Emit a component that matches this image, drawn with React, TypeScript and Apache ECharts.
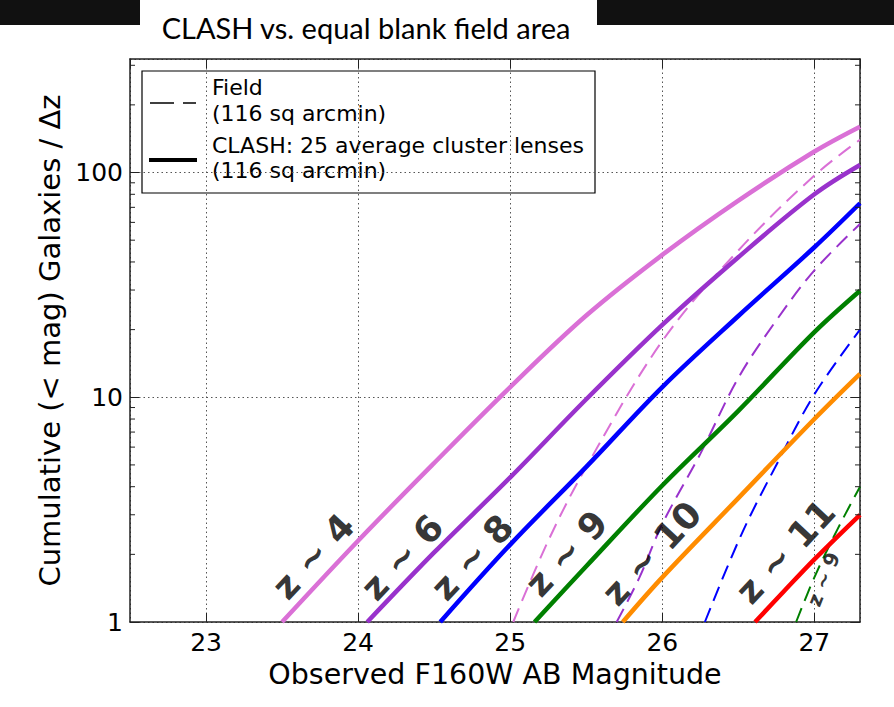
import React, { useEffect, useRef } from "react";
import * as echarts from "echarts";

// Axis ranges
const X_MIN = 22.5;
const X_MAX = 27.3;
const Y_MIN = 1;
const Y_MAX = 320;

// CLASH lensed cumulative counts (solid lines): magnitude / galaxies per unit z
const Z4_MAG = [23.5, 24.0, 24.5, 25.0, 25.5, 26.0, 26.5, 27.0, 27.3];
const Z4_CLASH = [1, 2.3, 5.1, 11.1, 23.1, 43, 75, 124, 160];
const Z6_MAG = [24.06, 24.5, 25.0, 25.5, 26.0, 26.5, 27.0, 27.3];
const Z6_CLASH = [1, 2.04, 4.4, 9.8, 21, 42, 80, 108];
const Z8_MAG = [24.54, 25.0, 25.5, 26.0, 26.5, 27.0, 27.3];
const Z8_CLASH = [1, 2.21, 4.9, 11.1, 23, 46.5, 73];
const Z9_MAG = [25.16, 25.5, 26.0, 26.5, 27.0, 27.3];
const Z9_CLASH = [1, 1.77, 4.05, 8.7, 19.5, 29.8];
const Z10_MAG = [25.74, 26.0, 26.5, 27.0, 27.3];
const Z10_CLASH = [1, 1.58, 3.56, 8.0, 12.7];
const Z11_MAG = [26.61, 26.8, 27.0, 27.3];
const Z11_CLASH = [1, 1.37, 1.9, 3.0];

// Blank field cumulative counts (dashed lines)
const Z4_FIELD_MAG = [25.02, 25.25, 25.5, 26.0, 26.5, 27.0, 27.3];
const Z4_FIELD = [1, 2.3, 4.9, 17.8, 45, 97, 140];
const Z6_FIELD_MAG = [25.7, 25.85, 26.0, 26.25, 26.5, 26.75, 27.0, 27.3];
const Z6_FIELD = [1, 1.58, 2.73, 5.6, 12.2, 22, 36.7, 59];
const Z8_FIELD_MAG = [26.28, 26.52, 26.75, 27.0, 27.3];
const Z8_FIELD = [1, 2.45, 5.0, 10.3, 20];
const Z9_FIELD_MAG = [26.88, 27.0, 27.15, 27.3];
const Z9_FIELD = [1, 1.58, 2.57, 4.0];

// Redshift annotations placed in data space
const LABEL_TEXT = ["z ~ 4", "z ~ 6", "z ~ 8", "z ~ 9", "z ~ 10", "z ~ 11"];
const LABEL_MAG = [23.705, 24.29, 24.75, 25.37, 25.93, 26.81];
const LABEL_N = [1.96, 1.94, 1.94, 2.02, 2.02, 2.06];
const FIELD_LABEL_TEXT = "z ~ 9";
const FIELD_LABEL_MAG = 27.06;
const FIELD_LABEL_N = 1.55;

// Log minor ticks
const MINOR_Y = [2, 3, 4, 5, 6, 7, 8, 9, 20, 30, 40, 50, 60, 70, 80, 90, 200, 300];

const FONT = "DejaVu Sans";
const FRAME = "#222";

const pairs = (xs: number[], ys: number[]) => xs.map((x, i) => [x, ys[i]]);

const solid = (name: string, color: string, xs: number[], ys: number[]) => ({
  name,
  type: "line",
  data: pairs(xs, ys),
  smooth: 0.35,
  symbol: "none",
  showSymbol: false,
  silent: true,
  z: 4,
  lineStyle: { color, width: 4.5, cap: "butt" },
});

const dashed = (name: string, color: string, xs: number[], ys: number[]) => ({
  name,
  type: "line",
  data: pairs(xs, ys),
  smooth: 0.35,
  symbol: "none",
  showSymbol: false,
  silent: true,
  z: 3,
  lineStyle: { color, width: 2, type: [15, 8], cap: "butt" },
});

const frameAxis = {
  axisLine: { show: true, onZero: false, lineStyle: { color: FRAME, width: 1.5 } },
  axisTick: { show: true, inside: true, length: 9, lineStyle: { color: FRAME, width: 1 } },
};

const gridLine = {
  show: true,
  lineStyle: { color: "#555", width: 1, type: [1.5, 3] },
};

export default function App() {
  const ref = useRef<HTMLDivElement>(null);

  useEffect(() => {
    const chart = echarts.init(ref.current!, null, { renderer: "svg" });

    const legendText = (text: string, y: number) => ({
      type: "text",
      x: 212,
      y,
      style: {
        text,
        fill: "#000",
        font: `22px "${FONT}"`,
        textVerticalAlign: "middle",
        verticalAlign: "middle",
      },
    });

    const option: any = {
      animation: false,
      backgroundColor: "#fff",
      grid: { left: 130, right: 34, top: 59, bottom: 85, containLabel: false },
      xAxis: [
        {
          type: "value",
          min: X_MIN,
          max: X_MAX,
          position: "bottom",
          ...frameAxis,
          axisLabel: {
            showMinLabel: false,
            showMaxLabel: false,
            margin: 8,
            fontSize: 25,
            color: "#000",
            fontFamily: FONT,
          },
          splitLine: gridLine,
          name: "Observed F160W AB Magnitude",
          nameLocation: "middle",
          nameGap: 36,
          nameTextStyle: { fontSize: 28.5, fontFamily: FONT, color: "#000" },
        },
        {
          type: "value",
          min: X_MIN,
          max: X_MAX,
          position: "top",
          ...frameAxis,
          axisLabel: { show: false },
          splitLine: { show: false },
        },
      ],
      yAxis: [
        {
          type: "log",
          logBase: 10,
          min: Y_MIN,
          max: Y_MAX,
          position: "left",
          ...frameAxis,
          axisLabel: {
            showMaxLabel: false,
            margin: 7,
            fontSize: 25,
            color: "#000",
            fontFamily: FONT,
          },
          splitLine: gridLine,
          name: "Cumulative (< mag) Galaxies / \u0394z",
          nameLocation: "middle",
          nameGap: 64,
          nameTextStyle: { fontSize: 29, fontFamily: FONT, color: "#000" },
        },
        {
          type: "log",
          logBase: 10,
          min: Y_MIN,
          max: Y_MAX,
          position: "right",
          ...frameAxis,
          axisLabel: { show: false },
          splitLine: { show: false },
        },
      ],
      series: [
        dashed("z~4 field", "#DA70D6", Z4_FIELD_MAG, Z4_FIELD),
        dashed("z~6 field", "#9932CC", Z6_FIELD_MAG, Z6_FIELD),
        dashed("z~8 field", "#0000FF", Z8_FIELD_MAG, Z8_FIELD),
        dashed("z~9 field", "#008000", Z9_FIELD_MAG, Z9_FIELD),
        solid("z~4 CLASH", "#DA70D6", Z4_MAG, Z4_CLASH),
        solid("z~6 CLASH", "#9932CC", Z6_MAG, Z6_CLASH),
        solid("z~8 CLASH", "#0000FF", Z8_MAG, Z8_CLASH),
        solid("z~9 CLASH", "#008000", Z9_MAG, Z9_CLASH),
        solid("z~10 CLASH", "#FF8C00", Z10_MAG, Z10_CLASH),
        solid("z~11 CLASH", "#FF0000", Z11_MAG, Z11_CLASH),
        {
          name: "minor ticks",
          type: "custom",
          coordinateSystem: "cartesian2d",
          silent: true,
          clip: false,
          z: 6,
          data: MINOR_Y.map((v) => [X_MIN, v]),
          renderItem: (_params: any, api: any) => {
            const v = api.value(1);
            const l = api.coord([X_MIN, v]);
            const r = api.coord([X_MAX, v]);
            const st = { stroke: FRAME, lineWidth: 1 };
            return {
              type: "group",
              children: [
                { type: "line", shape: { x1: l[0], y1: l[1], x2: l[0] + 5, y2: l[1] }, style: st },
                { type: "line", shape: { x1: r[0], y1: r[1], x2: r[0] - 5, y2: r[1] }, style: st },
              ],
            };
          },
        },
        {
          name: "redshift labels",
          type: "scatter",
          symbolSize: 0,
          silent: true,
          z: 10,
          itemStyle: { color: "transparent" },
          label: {
            show: true,
            position: "inside",
            formatter: "{b}",
            color: "#000",
            fontFamily: FONT,
            fontWeight: "bold",
            fontSize: 36,
            rotate: 47,
          },
          data: [
            ...LABEL_TEXT.map((t, i) => ({ name: t, value: [LABEL_MAG[i], LABEL_N[i]] })),
            {
              name: FIELD_LABEL_TEXT,
              value: [FIELD_LABEL_MAG, FIELD_LABEL_N],
              label: { fontSize: 20, rotate: 68 },
            },
          ],
        },
      ],
      graphic: [
        { type: "rect", shape: { x: 0, y: 0, width: 140, height: 25 }, style: { fill: "#111" } },
        { type: "rect", shape: { x: 597, y: 0, width: 297, height: 25 }, style: { fill: "#111" } },
        {
          type: "text",
          x: 366,
          y: 27,
          style: {
            text: "CLASH vs. equal blank field area",
            fill: "#000",
            font: '29px "Lato"',
            textAlign: "center",
            textVerticalAlign: "middle",
            align: "center",
            verticalAlign: "middle",
          },
        },
        {
          type: "group",
          z: 100,
          children: [
            {
              type: "rect",
              shape: { x: 142, y: 71, width: 453, height: 122 },
              style: { fill: "#fff", stroke: "#000", lineWidth: 1.2 },
            },
            {
              type: "line",
              shape: { x1: 150, y1: 103, x2: 196, y2: 103 },
              style: { stroke: "#000", lineWidth: 1.5, lineDash: [24, 9] },
            },
            legendText("Field", 87),
            legendText("(116 sq arcmin)", 113),
            {
              type: "line",
              shape: { x1: 149, y1: 160, x2: 197, y2: 160 },
              style: { stroke: "#000", lineWidth: 4 },
            },
            legendText("CLASH: 25 average cluster lenses", 145),
            legendText("(116 sq arcmin)", 170),
          ],
        },
      ],
    };

    chart.setOption(option);
    return () => chart.dispose();
  }, []);

  return (
    <div
      ref={ref}
      style={{ position: "fixed", left: 0, top: 0, width: 894, height: 707, background: "#fff" }}
    />
  );
}
